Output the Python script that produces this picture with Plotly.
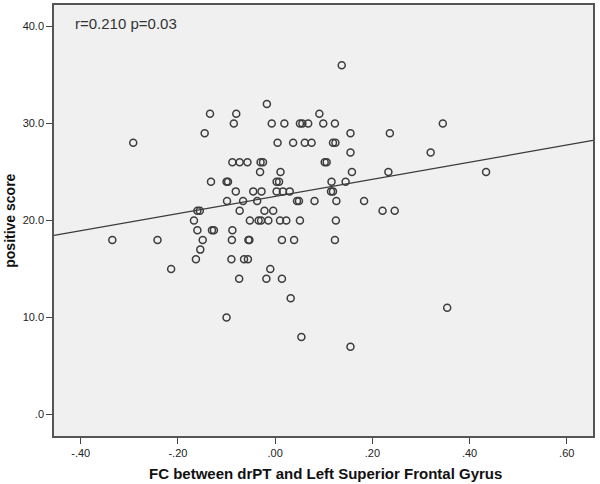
import numpy as np
import plotly.graph_objects as go

# FC values (x) and positive scores (y)
fc = [
    0.137,                                                         # 36
    -0.017,                                                        # 32
    -0.134, -0.080, 0.091,                                         # 31
    -0.085, -0.007, 0.019, 0.051, 0.056, 0.068, 0.099, 0.123, 0.345,  # 30
    -0.145, 0.155, 0.236,                                          # 29
    -0.292, 0.005, 0.037, 0.061, 0.075, 0.119, 0.124,              # 28
    0.155, 0.320,                                                  # 27
    -0.088, -0.073, -0.057, -0.030, -0.025, 0.102, 0.106,          # 26
    -0.031, 0.011, 0.158, 0.233, 0.434,                            # 25
    -0.132, -0.100, -0.097, 0.003, 0.008, 0.116, 0.145,            # 24
    -0.081, -0.045, -0.028, 0.003, 0.016, 0.030, 0.115, 0.119,     # 23
    -0.099, -0.066, -0.037, 0.045, 0.049, 0.081, 0.126, 0.183,     # 22
    -0.160, -0.155, -0.073, -0.022, -0.004, 0.221, 0.246,          # 21
    -0.167, -0.052, -0.034, -0.029, -0.014, 0.010, 0.023, 0.051, 0.125,  # 20
    -0.160, -0.130, -0.126, -0.088,                                # 19
    -0.335, -0.242, -0.149, -0.089, -0.055, -0.053, 0.014, 0.039, 0.123,  # 18
    -0.154,                                                        # 17
    -0.163, -0.090, -0.064, -0.056,                                # 16
    -0.214, -0.010,                                                # 15
    -0.074, -0.018, 0.014,                                         # 14
    0.032,                                                         # 12
    0.354,                                                         # 11
    -0.100,                                                        # 10
    0.054,                                                         # 8
    0.155,                                                         # 7
]
score = (
    [36] + [32] + [31] * 3 + [30] * 9 + [29] * 3 + [28] * 7 + [27] * 2
    + [26] * 7 + [25] * 5 + [24] * 7 + [23] * 8 + [22] * 8 + [21] * 7
    + [20] * 9 + [19] * 4 + [18] * 9 + [17] + [16] * 4 + [15] * 2
    + [14] * 3 + [12] + [11] + [10] + [8] + [7]
)

x_ticks = [-0.4, -0.2, 0.0, 0.2, 0.4, 0.6]
x_ticktext = ["-.40", "-.20", ".00", ".20", ".40", ".60"]
y_ticks = [0, 10, 20, 30, 40]
y_ticktext = [".0", "10.0", "20.0", "30.0", "40.0"]

x_range = [-0.455, 0.654]
y_range = [-2.2, 42.2]

# linear fit line across the full x range
slope, intercept = np.polyfit(fc, score, 1)
line_x = np.array(x_range)
line_y = intercept + slope * line_x

fig = go.Figure()
fig.add_trace(
    go.Scatter(
        x=line_x,
        y=line_y,
        mode="lines",
        line=dict(color="#3a3a3a", width=1.2),
        hoverinfo="skip",
    )
)
fig.add_trace(
    go.Scatter(
        x=fc,
        y=score,
        mode="markers",
        marker=dict(
            symbol="circle-open",
            size=7,
            color="#3c3c3c",
            line=dict(width=1.5, color="#3c3c3c"),
        ),
    )
)

# stats label and axis titles placed by hand (margins are fixed)
fig.add_annotation(
    x=0.1345, xref="paper",
    y=0.9575, yref="paper",
    text="r=0.210 p=0.03",
    showarrow=False,
    xanchor="center",
    yanchor="middle",
    font=dict(size=15, color="#333"),
)
fig.add_annotation(
    x=0.503, xref="paper",
    y=-0.086, yref="paper",
    text="<b>FC between drPT and Left Superior Frontal Gyrus</b>",
    showarrow=False,
    xanchor="center",
    yanchor="middle",
    font=dict(size=15, color="#111"),
)
fig.add_annotation(
    x=-0.083, xref="paper",
    y=0.5, yref="paper",
    text="<b>positive score</b>",
    textangle=-90,
    showarrow=False,
    xanchor="center",
    yanchor="middle",
    font=dict(size=14, color="#111"),
)

fig.update_layout(
    width=600,
    height=484,
    margin=dict(l=54, r=7, t=5, b=48),
    plot_bgcolor="#f0f0f0",
    paper_bgcolor="white",
    showlegend=False,
    font=dict(family="Liberation Sans, Arial, sans-serif", color="#222"),
    xaxis=dict(
        range=x_range,
        tickvals=x_ticks,
        ticktext=x_ticktext,
        ticks="outside",
        ticklen=6,
        tickcolor="#444",
        tickfont=dict(size=11),
        showgrid=False,
        zeroline=False,
        showline=True,
        linecolor="#555",
        linewidth=1.5,
        mirror=True,
        automargin=False,
    ),
    yaxis=dict(
        range=y_range,
        tickvals=y_ticks,
        ticktext=y_ticktext,
        ticks="outside",
        ticklen=6,
        tickcolor="#444",
        tickfont=dict(size=11),
        showgrid=False,
        zeroline=False,
        showline=True,
        linecolor="#555",
        linewidth=1.5,
        mirror=True,
        automargin=False,
    ),
)

# drop the default page margin so the 600x484 figure fills the window
fig.write_html(
    "out.html",
    config={"displayModeBar": False},
    post_script="document.body.style.margin='0';",
)
